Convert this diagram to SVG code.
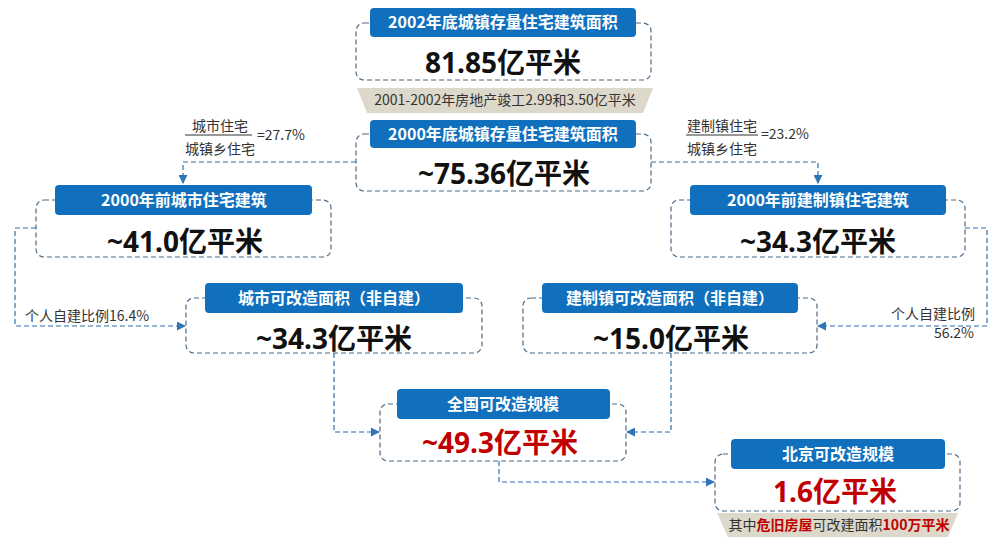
<svg xmlns="http://www.w3.org/2000/svg" width="1000" height="552" viewBox="0 0 1000 552">
<defs>
<style>
.box{fill:#fff;stroke:#4C6A85;stroke-width:1.2;stroke-dasharray:5 3}
.hdr{fill:#1170BD}
.ht{font-family:"Noto Sans CJK SC",sans-serif;font-weight:bold;font-size:16px;fill:#fff;text-anchor:middle}
.val{font-family:"Noto Sans","Noto Sans CJK SC",sans-serif;font-weight:bold;font-size:28px;fill:#111;text-anchor:middle}
.red{fill:#C00000}
.sm{font-family:"Noto Sans CJK SC",sans-serif;font-size:14px;fill:#333}
.rib{fill:#DCD8CA}
.con{fill:none;stroke:#2E6FA8;stroke-width:1.2;stroke-dasharray:5 3}
</style>
<marker id="ar" viewBox="0 0 10 10" refX="9" refY="5" markerWidth="9" markerHeight="9" markerUnits="userSpaceOnUse" orient="auto">
<path d="M0,0 L10,5 L0,10 z" fill="#2E75B6"/>
</marker>
</defs>
<rect width="1000" height="552" fill="#fff"/>

<g id="connectors">
<path class="con" d="M356 162 H183 V183" marker-end="url(#ar)"/>
<path class="con" d="M651 162 H818 V183" marker-end="url(#ar)"/>
<path class="con" d="M36 228 H15 V326 H185" marker-end="url(#ar)"/>
<path class="con" d="M965 228 H987 V326 H818" marker-end="url(#ar)"/>
<path class="con" d="M334 353 V432 H379" marker-end="url(#ar)"/>
<path class="con" d="M671 353 V432 H627" marker-end="url(#ar)"/>
<path class="con" d="M499 461 V482 H714" marker-end="url(#ar)"/>
</g>

<g id="n2002">
<rect class="box" x="356" y="23" width="295" height="57" rx="8"/>
<rect class="hdr" x="370" y="8" width="266" height="29" rx="4"/>
<text class="ht" x="503" y="28">2002年底城镇存量住宅建筑面积</text>
<text class="val" x="503" y="73">81.85亿平米</text>
</g>

<g id="ribbon1">
<polygon class="rib" points="357,88 653,88 643,113 367,113"/>
<text class="sm" x="505" y="105" text-anchor="middle" font-size="13.5">2001-2002年房地产竣工2.99和3.50亿平米</text>
</g>

<g id="n2000">
<rect class="box" x="356" y="134" width="295" height="57" rx="8"/>
<rect class="hdr" x="370" y="120" width="266" height="28" rx="4"/>
<text class="ht" x="503" y="140">2000年底城镇存量住宅建筑面积</text>
<text class="val" x="504" y="184">~75.36亿平米</text>
</g>

<g id="frac-left">
<text class="sm" x="192" y="131">城市住宅</text>
<line x1="185" y1="135" x2="252" y2="135" stroke="#333" stroke-width="1"/>
<text class="sm" x="185" y="154">城镇乡住宅</text>
<text class="sm" x="257" y="140">=27.7%</text>
</g>

<g id="frac-right">
<text class="sm" x="687" y="131">建制镇住宅</text>
<line x1="686" y1="135" x2="758" y2="135" stroke="#333" stroke-width="1"/>
<text class="sm" x="687" y="154">城镇乡住宅</text>
<text class="sm" x="761" y="139">=23.2%</text>
</g>

<g id="city2000">
<rect class="box" x="36" y="200" width="295" height="57" rx="8"/>
<rect class="hdr" x="55" y="185" width="257" height="30" rx="4"/>
<text class="ht" x="184" y="206">2000年前城市住宅建筑</text>
<text class="val" x="185" y="252">~41.0亿平米</text>
</g>

<g id="town2000">
<rect class="box" x="671" y="200" width="294" height="57" rx="8"/>
<rect class="hdr" x="690" y="185" width="256" height="30" rx="4"/>
<text class="ht" x="818" y="206">2000年前建制镇住宅建筑</text>
<text class="val" x="818" y="252">~34.3亿平米</text>
</g>

<g id="label-left">
<text class="sm" x="25" y="321">个人自建比例16.4%</text>
</g>
<g id="label-right">
<text class="sm" x="975" y="319" text-anchor="end">个人自建比例</text>
<text class="sm" x="974" y="338" text-anchor="end">56.2%</text>
</g>

<g id="cityRe">
<rect class="box" x="186" y="298" width="296" height="55" rx="8"/>
<rect class="hdr" x="205" y="283" width="258" height="30" rx="4"/>
<text class="ht" x="334" y="304">城市可改造面积（非自建）</text>
<text class="val" x="334" y="349">~34.3亿平米</text>
</g>

<g id="townRe">
<rect class="box" x="523" y="298" width="294" height="55" rx="8"/>
<rect class="hdr" x="542" y="283" width="256" height="30" rx="4"/>
<text class="ht" x="670" y="304">建制镇可改造面积（非自建）</text>
<text class="val" x="671" y="349">~15.0亿平米</text>
</g>

<g id="national">
<rect class="box" x="380" y="404" width="246" height="57" rx="8"/>
<rect class="hdr" x="397" y="389" width="213" height="30" rx="4"/>
<text class="ht" x="503" y="410">全国可改造规模</text>
<text class="val red" x="500" y="453">~49.3亿平米</text>
</g>

<g id="beijing">
<rect class="box" x="715" y="454" width="245" height="57" rx="8"/>
<rect class="hdr" x="731" y="439" width="214" height="30" rx="4"/>
<text class="ht" x="838" y="460">北京可改造规模</text>
<text class="val red" x="835" y="502">1.6亿平米</text>
</g>

<g id="ribbon2">
<polygon class="rib" points="717,513 958,513 948,537 728,537"/>
<text class="sm" x="839" y="530" text-anchor="middle" font-size="14" fill="#222">其中<tspan fill="#C00000" font-weight="bold">危旧房屋</tspan>可改建面积<tspan fill="#C00000" font-weight="bold">100万平米</tspan></text>
</g>
</svg>
